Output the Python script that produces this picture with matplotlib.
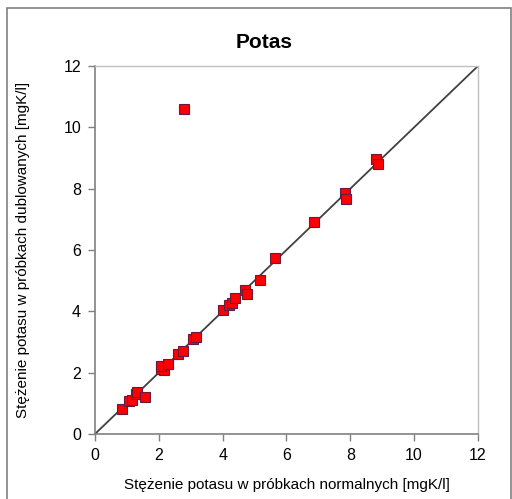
import matplotlib
matplotlib.use("Agg")
from matplotlib import pyplot as plt
from matplotlib.patches import Rectangle

plt.rcParams['font.family'] = ['Liberation Sans', 'DejaVu Sans']

# stezenie w probkach normalnych / dublowanych [mgK/l]
normal = [0.85, 1.07, 1.17, 1.27, 1.33, 1.58, 2.06, 2.16, 2.08, 2.28, 2.60, 2.75,
          3.06, 3.16, 4.02, 4.19, 4.28, 4.39, 4.70, 4.76, 5.16, 5.64, 6.87,
          7.82, 7.85, 8.80, 8.87, 2.78]
duplicate = [0.82, 1.09, 1.11, 1.29, 1.38, 1.20, 2.12, 2.09, 2.22, 2.27, 2.61, 2.72,
             3.09, 3.17, 4.05, 4.21, 4.26, 4.44, 4.71, 4.58, 5.03, 5.75, 6.91,
             7.85, 7.67, 8.97, 8.81, 10.59]
ticks = [0, 2, 4, 6, 8, 10, 12]

fig = plt.figure(figsize=(5.12, 4.99), dpi=100)
# ramka wokol wykresu
fig.patches.append(Rectangle((7 / 512, -0.02), 504 / 512, 1 - 8 / 499 + 0.02,
                             transform=fig.transFigure, fill=False,
                             edgecolor='#808080', linewidth=1.2))

ax = fig.add_axes([0.1855, 0.1303, 0.748, 0.7374])
ax.plot([0, 12], [0, 12], color='#404040', linewidth=1.3, zorder=2)
ax.plot(normal, duplicate, linestyle='none', marker='s', markersize=6.5,
        markerfacecolor='#ff0000', markeredgecolor='#6a1a40', markeredgewidth=0.8,
        zorder=3)

ax.set_xlim(0, 12)
ax.set_ylim(0, 12)
ax.set_xticks(ticks)
ax.set_yticks(ticks)
ax.tick_params(direction='out', length=5, width=1, color='#808080',
               labelsize=11.5, pad=5)
for side in ['left', 'bottom']:
    ax.spines[side].set_color('#808080')
    ax.spines[side].set_linewidth(1.2)
for side in ['top', 'right']:
    ax.spines[side].set_color('#c0c0c0')
    ax.spines[side].set_linewidth(1.0)

ax.set_xlabel('Stężenie potasu w próbkach normalnych [mgK/l]', fontsize=11, labelpad=11)
ax.set_ylabel('Stężenie potasu w próbkach dublowanych [mgK/l]', fontsize=11, labelpad=24)
fig.text(0.515, 0.915, 'Potas', fontsize=15, fontweight='bold', ha='center', va='center')

fig.savefig('out.png', dpi=100)
